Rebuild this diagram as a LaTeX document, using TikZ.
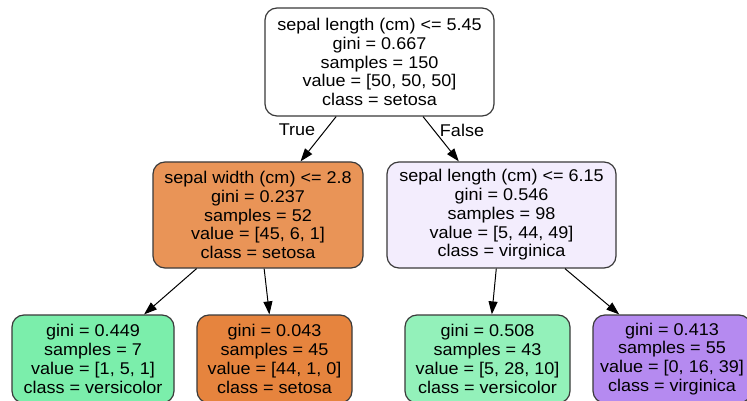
\documentclass[tikz,border=0pt]{standalone}
\usepackage{fontspec}
\setmainfont{Liberation Sans}[FakeStretch=1.06]
\usetikzlibrary{arrows.meta}
\definecolor{setosaA}{HTML}{E99457}
\definecolor{setosaB}{HTML}{E6843E}
\definecolor{versiA}{HTML}{7BEEAB}
\definecolor{versiB}{HTML}{93F1BA}
\definecolor{virgA}{HTML}{F3EDFD}
\definecolor{virgB}{HTML}{B58AF0}
\definecolor{edgegray}{HTML}{3A3A3A}
\tikzset{
  treenode/.style={draw=edgegray, line width=1.2pt, rounded corners=12pt,
    align=center, inner sep=0pt, font=\fontsize{17}{18.8}\selectfont},
  splitnode/.style={treenode, minimum height=106pt},
  leafnode/.style={treenode, minimum height=88pt},
  branch/.style={line width=1pt, black, -{Triangle[length=13pt,width=9pt]}},
  branchlabel/.style={font=\fontsize{17}{18.8}\selectfont, inner sep=0pt}
}
\begin{document}
\begin{tikzpicture}[x=1pt, y=-1pt]
  \useasboundingbox (0,0) rectangle (747,401);
  \clip (0,0) rectangle (747,401);
  \fill[white] (0,0) rectangle (747,401);

  % root split
  \node[treenode, fill=white, minimum width=229pt, minimum height=108pt] (root) at (379.5,62)
    {sepal length (cm) <= 5.45\\gini = 0.667\\samples = 150\\value = [50, 50, 50]\\class = setosa};

  % second level
  \node[splitnode, fill=setosaA, minimum width=210pt] (left) at (258,215)
    {sepal width (cm) <= 2.8\\gini = 0.237\\samples = 52\\value = [45, 6, 1]\\class = setosa};
  \node[splitnode, fill=virgA, minimum width=229pt] (right) at (501.5,215)
    {sepal length (cm) <= 6.15\\gini = 0.546\\samples = 98\\value = [5, 44, 49]\\class = virginica};

  % leaves
  \node[leafnode, fill=versiA, minimum width=162pt] (ll) at (93,359)
    {gini = 0.449\\samples = 7\\value = [1, 5, 1]\\class = versicolor};
  \node[leafnode, fill=setosaB, minimum width=155pt] (lr) at (274.5,359)
    {gini = 0.043\\samples = 45\\value = [44, 1, 0]\\class = setosa};
  \node[leafnode, fill=versiB, minimum width=165pt] (rl) at (487.5,359)
    {gini = 0.508\\samples = 43\\value = [5, 28, 10]\\class = versicolor};
  \node[leafnode, fill=virgB, minimum width=158pt] (rr) at (672,359)
    {gini = 0.413\\samples = 55\\value = [0, 16, 39]\\class = virginica};

  % branches
  \draw[branch] (root) -- (left);
  \draw[branch] (root) -- (right);
  \draw[branch] (left) -- (ll);
  \draw[branch] (left) -- (lr);
  \draw[branch] (right) -- (rl);
  \draw[branch] (right) -- (rr);

  \node[branchlabel] (truelabel) at (297,130) {True};
  \node[branchlabel] (falselabel) at (462,130) {False};
\end{tikzpicture}
\end{document}
